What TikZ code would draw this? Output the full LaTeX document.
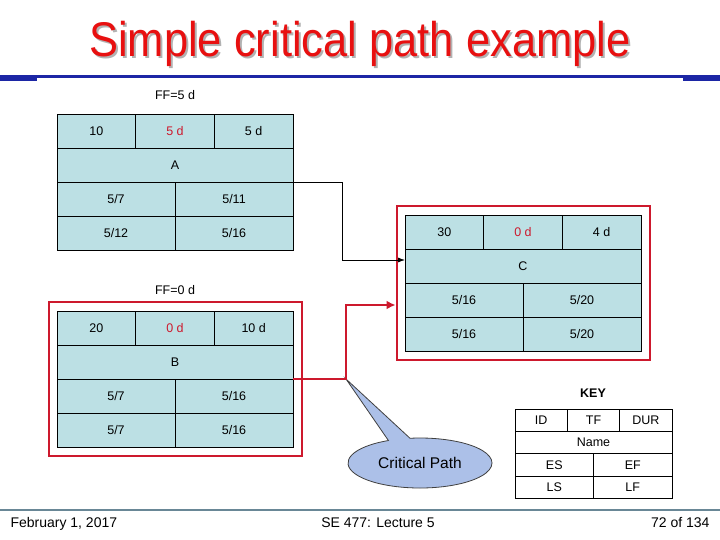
\documentclass[tikz,border=0pt]{standalone}
\usepackage{fontspec}
\setmainfont{Liberation Sans}
\definecolor{cellblue}{RGB}{188,224,228}
\definecolor{critred}{RGB}{205,25,45}
\definecolor{titlered}{RGB}{232,16,16}
\definecolor{barblue}{RGB}{28,38,165}
\definecolor{footgray}{RGB}{105,135,150}
\definecolor{bubble}{RGB}{172,192,232}
\usetikzlibrary{arrows.meta,shapes.geometric,shapes.callouts,fit,calc}

\begin{document}
\begin{tikzpicture}[x=1pt,y=-1pt,
  cell/.style={draw,fill=cellblue,anchor=north west,inner sep=0pt,outer sep=0pt,
    minimum height=34pt,line width=0.8pt,font=\fontsize{12.5pt}{14pt}\selectfont},
  third/.style={cell,minimum width=78.67pt},
  half/.style={cell,minimum width=118pt},
  full/.style={cell,minimum width=236pt},
  keycell/.style={draw,fill=white,anchor=north west,inner sep=0pt,outer sep=0pt,
    minimum height=22.3pt,line width=0.8pt,font=\fontsize{12.5pt}{14pt}\selectfont},
  kthird/.style={keycell,minimum width=52.33pt},
  khalf/.style={keycell,minimum width=78.5pt},
  kfull/.style={keycell,minimum width=157pt},
  ffnote/.style={font=\fontsize{12.5pt}{14pt}\selectfont},
  crit/.style={draw=critred,line width=2pt,inner xsep=8.5pt,inner ysep=9pt},
  flow/.style={draw,line width=0.8pt,-{Latex[length=7pt,width=5pt]}},
  critflow/.style={draw=critred,line width=2.4pt,-{Latex[length=9pt,width=9pt]}},
  foot/.style={font=\fontsize{14pt}{16pt}\selectfont},
  headline/.style={font=\fontsize{43.5pt}{50pt}\selectfont,anchor=base,inner sep=0pt}
]
  \useasboundingbox[fill=white] (0,0) rectangle (720,540);

  % title and bars
  \node[headline,text=gray!60] (titleshadow) at (362,59) {\scalebox{1}[1.12]{Simple critical path example}};
  \node[headline,text=titlered] (title) at (360,57) {\scalebox{1}[1.12]{Simple critical path example}};
  \fill[barblue] (0,75) rectangle (720,77.7);
  \fill[barblue] (0,75) rectangle (36.7,80.7);
  \fill[barblue] (683,75) rectangle (720,80.7);

  % Activity A
  \node[ffnote] (aff) at (175,95) {FF=5 d};
  \node[third] (aid) at (57,114) {10};
  \node[third,text=critred] (atf) at (135.67,114) {5 d};
  \node[third] (adur) at (214.33,114) {5 d};
  \node[full] (aname) at (57,148) {A};
  \node[half] (aes) at (57,182) {5/7};
  \node[half] (aef) at (175,182) {5/11};
  \node[half] (als) at (57,216) {5/12};
  \node[half] (alf) at (175,216) {5/16};

  % Activity B
  \node[ffnote] (bff) at (175,290) {FF=0 d};
  \node[third] (bid) at (57,311) {20};
  \node[third,text=critred] (btf) at (135.67,311) {0 d};
  \node[third] (bdur) at (214.33,311) {10 d};
  \node[full] (bname) at (57,345) {B};
  \node[half] (bes) at (57,379) {5/7};
  \node[half] (bef) at (175,379) {5/16};
  \node[half] (bls) at (57,413) {5/7};
  \node[half] (blf) at (175,413) {5/16};
  \node[crit,fit=(bid)(blf)] (bcrit) {};

  % Activity C
  \node[third] (cid) at (405,215) {30};
  \node[third,text=critred] (ctf) at (483.67,215) {0 d};
  \node[third] (cdur) at (562.33,215) {4 d};
  \node[full] (cname) at (405,249) {C};
  \node[half] (cearly) at (405,283) {5/16};
  \node[half] (cef) at (523,283) {5/20};
  \node[half] (cls) at (405,317) {5/16};
  \node[half] (clf) at (523,317) {5/20};
  \node[crit,fit=(cid)(clf)] (ccrit) {};

  % connectors
  \coordinate (cpbend) at (346,379);
  \draw[flow] (aname.south east) -- ++(49,0) |- ($(cname.west)+(0,-6)$);
  \node[ellipse callout,draw=black!75,fill=bubble,line width=0.8pt,minimum width=144pt,
    minimum height=50pt,inner sep=0pt,callout absolute pointer={(cpbend)},
    callout pointer arc=18,font=\fontsize{15.5pt}{17pt}\selectfont] (cplabel) at (420,463) {Critical Path};
  \draw[critflow] (bname.south east) -- (cpbend) |- ($(cearly.west -| ccrit.west)+(0,5)$);

  % KEY
  \node[font=\bfseries\fontsize{12.5pt}{14pt}\selectfont] (keytitle) at (593,393) {KEY};
  \node[kthird] (kid) at (515,409) {ID};
  \node[kthird] (ktf) at (567.33,409) {TF};
  \node[kthird] (kdur) at (619.67,409) {DUR};
  \node[kfull] (kname) at (515,431.3) {Name};
  \node[khalf] (kes) at (515,453.6) {ES};
  \node[khalf] (kef) at (593.5,453.6) {EF};
  \node[khalf] (kls) at (515,475.9) {LS};
  \node[khalf] (klf) at (593.5,475.9) {LF};

  % footer
  \draw[footgray,line width=1.2pt] (0,510) -- (720,510);
  \node[foot,anchor=base west] (fdate) at (7,527) {February 1, 2017};
  \node[foot,anchor=base] (fcourse) at (378,527) {SE 477: Lecture 5};
  \node[foot,anchor=base east] (fpage) at (713,527) {72 of 134};
\end{tikzpicture}
\end{document}
